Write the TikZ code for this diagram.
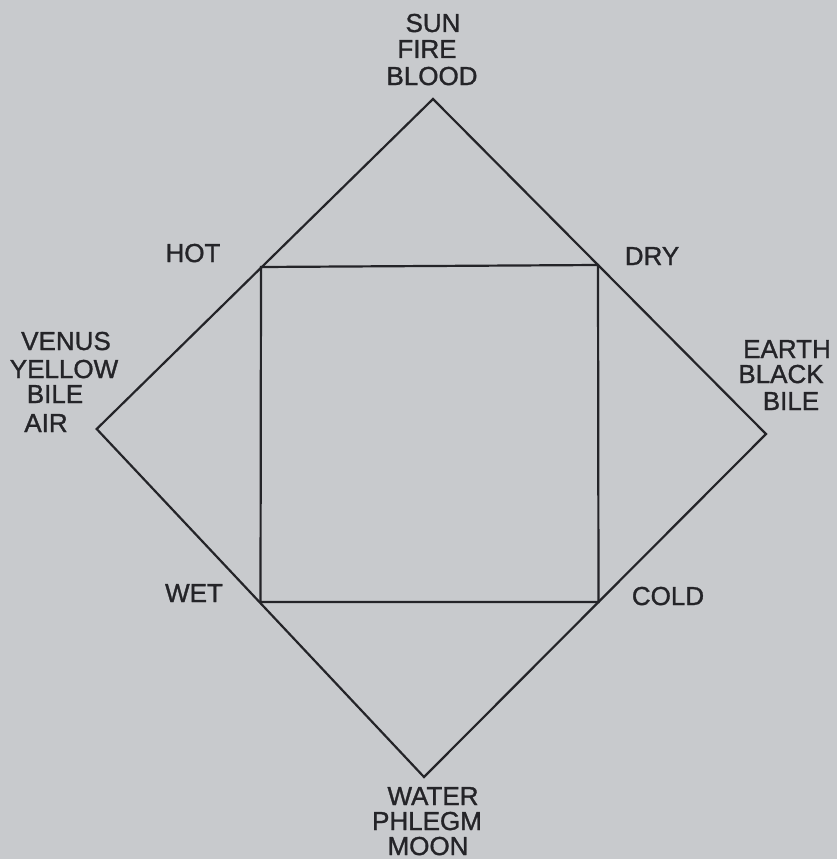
\documentclass[tikz,border=0pt]{standalone}
\usepackage{fontspec}
\setmainfont{Liberation Sans}
\newfontfamily\handfont[FakeBold=1.2]{Liberation Sans}
\definecolor{bg}{RGB}{200,202,205}
\definecolor{ink}{RGB}{36,36,40}
\begin{document}
\begin{tikzpicture}[x=1pt,y=-1pt,
  lbl/.style={anchor=base,inner sep=0pt,text=ink,font=\handfont\fontsize{26}{26}\selectfont},
  edge/.style={draw=ink,line width=2.2pt,line join=miter}]
\fill[bg] (0,0) rectangle (837,859);
\useasboundingbox (0,0) rectangle (837,859);
% diamond vertices
\coordinate (top) at (433,99);
\coordinate (left) at (96.7,429);
\coordinate (bottom) at (424,777);
\coordinate (right) at (766,434);
% square corners
\coordinate (hotc) at (261,267);
\coordinate (dryc) at (598,265);
\coordinate (coldc) at (598.5,602);
\coordinate (wetc) at (260.5,602);
\draw[edge] (top) -- (left) -- (bottom) -- (right) -- cycle;
\draw[edge] (hotc) -- (dryc) -- (coldc) -- (wetc) -- cycle;
% labels
\node[lbl] (sun) at (433,32) {SUN};
\node[lbl] (fire) at (427,58) {FIRE};
\node[lbl] (blood) at (432,85) {BLOOD};
\node[lbl] (hot) at (193,262) {HOT};
\node[lbl] (dry) at (652,265) {DRY};
\node[lbl] (venus) at (66,350) {VENUS};
\node[lbl] (yellow) at (64,378) {YELLOW};
\node[lbl] (bilel) at (55,403) {BILE};
\node[lbl] (air) at (46,432) {AIR};
\node[lbl] (earth) at (787,358) {EARTH};
\node[lbl] (black) at (781,383) {BLACK};
\node[lbl] (biler) at (791,410) {BILE};
\node[lbl] (wet) at (194,602) {WET};
\node[lbl] (cold) at (668,605) {COLD};
\node[lbl] (water) at (433,805) {WATER};
\node[lbl] (phlegm) at (427,830) {PHLEGM};
\node[lbl] (moon) at (428,855) {MOON};
\end{tikzpicture}
\end{document}
